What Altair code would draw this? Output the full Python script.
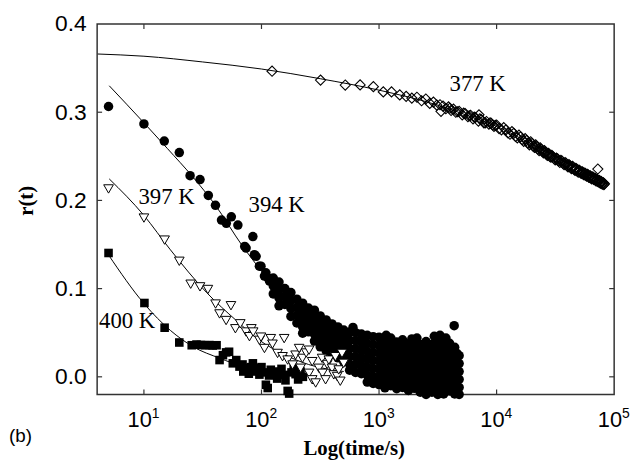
import altair as alt
import pandas as pd

# ---------------- data (time in s, r(t)) ----------------
# 377 K : open diamonds
obs377 = [
    (123, 0.3465), (318, 0.3364), (516, 0.3308), (690, 0.331), (895, 0.329), (1087, 0.323),
    (1277, 0.323), (1500, 0.3196), (1700, 0.318), (1900, 0.316), (2100, 0.317), (2300, 0.313),
    (2500, 0.315), (2700, 0.310), (2900, 0.3115), (3100, 0.308), (3300, 0.3085), (3365, 0.301),
    (3500, 0.307), (3700, 0.304), (3900, 0.306), (4000, 0.3045), (4100, 0.302), (4300, 0.3035),
    (4500, 0.300), (4650, 0.3005), (4800, 0.301), (5100, 0.297), (5250, 0.299), (5400, 0.2985),
    (5700, 0.295), (5850, 0.296), (6000, 0.2965), (6300, 0.2925), (6450, 0.2945), (6600, 0.294),
    (7000, 0.290), (7080, 0.297), (7200, 0.2925), (7400, 0.2915), (7800, 0.288), (8000, 0.288),
    (8200, 0.2895), (8600, 0.2865), (8800, 0.288), (9000, 0.2875), (9250, 0.2855), (9500, 0.284),
    (9750, 0.285), (10000, 0.2855),
    (10500, 0.2815), (11000, 0.280), (11500, 0.2825), (12000, 0.280), (12500, 0.2765), (13000, 0.275),
    (13500, 0.278), (14000, 0.276), (14500, 0.2725), (15000, 0.271), (15500, 0.274), (16000, 0.272),
    (16500, 0.269), (17000, 0.267), (17500, 0.270), (18000, 0.268), (18500, 0.265), (19000, 0.263),
    (19500, 0.2665), (20000, 0.2645), (20500, 0.2615), (21000, 0.260), (21500, 0.263), (22000, 0.261),
    (22500, 0.258), (23000, 0.2565), (23500, 0.2595), (24000, 0.258), (24500, 0.2555), (25000, 0.254),
    (25500, 0.2565), (26000, 0.255), (26500, 0.2525), (27000, 0.251), (27500, 0.2535), (28000, 0.2525),
    (28500, 0.2495), (29000, 0.249), (29500, 0.251), (30000, 0.250), (30750, 0.2475), (31500, 0.246),
    (32250, 0.248), (33000, 0.247), (33750, 0.2445), (34500, 0.243), (35250, 0.2455), (36000, 0.2445),
    (36750, 0.242), (37500, 0.2405), (38250, 0.243), (39000, 0.242), (39750, 0.2395), (40500, 0.238),
    (41250, 0.2405), (42000, 0.2395), (42750, 0.237), (43500, 0.236), (44250, 0.2385), (45000, 0.2375),
    (45750, 0.235), (46500, 0.234), (47250, 0.2365), (48000, 0.2355), (48750, 0.233), (49500, 0.232),
    (50250, 0.2345), (51000, 0.2335), (51750, 0.2315), (52500, 0.2305), (53250, 0.2325), (54000, 0.232),
    (54750, 0.2295), (55500, 0.229), (56250, 0.231), (57000, 0.2305), (57750, 0.228), (58500, 0.2275),
    (59250, 0.2295), (60000, 0.229), (60750, 0.2265), (61500, 0.226), (62250, 0.228), (63000, 0.2275),
    (63750, 0.225), (64500, 0.2245), (65250, 0.2265), (66000, 0.2265), (66750, 0.224), (67500, 0.2235),
    (68250, 0.225), (69000, 0.225), (69750, 0.2225), (70500, 0.222), (71250, 0.224), (72000, 0.2235),
    (72600, 0.2356), (72750, 0.2215), (73500, 0.221), (74250, 0.2225), (75000, 0.2225), (75750, 0.220),
    (76500, 0.2195), (77250, 0.2215), (78000, 0.221), (78750, 0.219), (79500, 0.2185), (80250, 0.220),
    (81000, 0.220), (81800, 0.218), (82600, 0.2188),
]

# 394 K : filled circles
obs394 = [
    (5, 0.3065), (10, 0.2867), (14.9, 0.2673), (20, 0.2542), (24.7, 0.2281), (30, 0.2236),
    (35.3, 0.2057), (40.6, 0.1945), (45.7, 0.1777), (50.2, 0.174), (55.4, 0.1814), (63, 0.172),
    (72, 0.1478), (74, 0.146), (84.5, 0.159), (87, 0.1385), (90, 0.1366), (96, 0.1254), (99, 0.1254),
    (106, 0.1142), (109, 0.118), (113, 0.1124), (117, 0.1086),
    (126, 0.112), (126, 0.103), (126, 0.094),
    (141, 0.1075), (141, 0.0985), (141, 0.0895), (141, 0.0805),
    (158, 0.100), (158, 0.091), (158, 0.082),
    (178, 0.0955), (178, 0.0865), (178, 0.0775), (178, 0.0685),
    (200, 0.088), (200, 0.079), (200, 0.070), (200, 0.061),
    (224, 0.0835), (224, 0.0745), (224, 0.0655), (224, 0.0565), (224, 0.0495),
    (251, 0.078), (251, 0.069), (251, 0.060), (251, 0.051),
    (282, 0.0755), (282, 0.0665), (282, 0.0575), (282, 0.0485), (282, 0.0405),
    (316, 0.069), (316, 0.060), (316, 0.051), (316, 0.042), (316, 0.034),
    (355, 0.0645), (355, 0.0555), (355, 0.0465), (355, 0.0375), (355, 0.0295),
    (398, 0.060), (398, 0.051), (398, 0.042), (398, 0.033), (398, 0.025),
    (447, 0.0565), (447, 0.0475), (447, 0.0385), (447, 0.0295), (447, 0.0215),
    (501, 0.053), (501, 0.044), (501, 0.035), (501, 0.026), (501, 0.017),
    (562, 0.0505), (562, 0.0415), (562, 0.0325), (562, 0.0235), (562, 0.0145), (562, 0.0075),
    (631, 0.050), (631, 0.041), (631, 0.032), (631, 0.023), (631, 0.014), (631, 0.005),
    (708, 0.0485), (708, 0.0395), (708, 0.0305), (708, 0.0215), (708, 0.0125), (708, 0.0035),
    (794, 0.047), (794, 0.038), (794, 0.029), (794, 0.020), (794, 0.011), (794, 0.002), (794, -0.006),
    (891, 0.0455), (891, 0.0365), (891, 0.0275), (891, 0.0185), (891, 0.0095), (891, 0.0005), (891, -0.0075),
    (1000, 0.045), (1000, 0.036), (1000, 0.027), (1000, 0.018), (1000, 0.009), (1000, 0.000), (1000, -0.009),
    (1122, 0.0395), (1122, 0.0305), (1122, 0.0215), (1122, 0.0125), (1122, 0.0035), (1122, -0.0055), (1122, -0.0125),
    (1259, 0.044), (1259, 0.035), (1259, 0.026), (1259, 0.017), (1259, 0.008), (1259, -0.001), (1259, -0.010),
    (1413, 0.0395), (1413, 0.0305), (1413, 0.0215), (1413, 0.0125), (1413, 0.0035), (1413, -0.0055), (1413, -0.0135),
    (1585, 0.042), (1585, 0.033), (1585, 0.024), (1585, 0.015), (1585, 0.006), (1585, -0.003), (1585, -0.012),
    (1778, 0.0375), (1778, 0.0285), (1778, 0.0195), (1778, 0.0105), (1778, 0.0015), (1778, -0.0075), (1778, -0.0155),
    (1995, 0.041), (1995, 0.032), (1995, 0.023), (1995, 0.014), (1995, 0.005), (1995, -0.004), (1995, -0.013),
    (2239, 0.0365), (2239, 0.0275), (2239, 0.0185), (2239, 0.0095), (2239, 0.0005), (2239, -0.0085), (2239, -0.0175),
    (2512, 0.040), (2512, 0.031), (2512, 0.022), (2512, 0.013), (2512, 0.004), (2512, -0.005), (2512, -0.014), (2512, -0.020),
    (2818, 0.0365), (2818, 0.0275), (2818, 0.0185), (2818, 0.0095), (2818, 0.0005), (2818, -0.0085), (2818, -0.0175),
    (3162, 0.040), (3162, 0.031), (3162, 0.022), (3162, 0.013), (3162, 0.004), (3162, -0.005), (3162, -0.014), (3162, -0.020),
    (3548, 0.0425), (3548, 0.0335), (3548, 0.0245), (3548, 0.0155), (3548, 0.0065), (3548, -0.0025), (3548, -0.0115), (3548, -0.0195),
    (3981, 0.038), (3981, 0.029), (3981, 0.020), (3981, 0.011), (3981, 0.002), (3981, -0.007), (3981, -0.016),
    (4400, 0.0335), (4400, 0.0245), (4400, 0.0155), (4400, 0.0065), (4400, -0.0025), (4400, -0.0115), (4400, -0.0195),
    (4800, 0.024), (4800, 0.015), (4800, 0.006), (4800, -0.003), (4800, -0.012), (4800, -0.020),
    (4356, 0.058), (2950, 0.046), (3707, 0.044), (3300, 0.047), (4600, 0.0265), (1900, 0.043),
    (600, 0.056), (1150, 0.047), (2100, 0.044),
]

# 397 K : open down-triangles
obs397 = [
    (5, 0.213), (10, 0.180), (15, 0.155), (20, 0.131), (25, 0.105), (30, 0.102), (35, 0.099),
    (40.7, 0.0825), (44, 0.0713), (50, 0.0638), (55, 0.0806), (60, 0.0545), (66, 0.0601),
    (74, 0.0508), (79, 0.0455), (82, 0.0545), (85, 0.0508), (96, 0.0414), (99, 0.045),
    (106, 0.0321), (120, 0.0433), (124, 0.037), (137, 0.0265), (151, 0.0228), (156, 0.0433),
    (167, 0.019), (184, 0.0134), (195, 0.0246), (209, 0.0321), (215, 0.0097), (223, 0.0209),
    (240, 0.027), (254, 0.0302), (254, 0.004), (270, 0.0172), (270, -0.0034), (289, -0.007),
    (308, 0.0097), (328, 0.0209), (330, 0.004), (351, -0.0034), (362, 0.014), (374, 0.019),
    (398, 0.0097), (412, 0.0022), (425, 0.0228), (440, 0.0004), (454, 0.0078), (468, -0.005),
    (484, 0.0265), (500, 0.0153),
]

# 400 K : filled squares
obs400 = [
    (5, 0.1404), (10.1, 0.0837), (15, 0.0557), (20, 0.0389), (25.5, 0.0358), (28, 0.0366),
    (30.5, 0.0362), (33, 0.0358), (36, 0.0360), (38.5, 0.0355), (41.5, 0.0358), (44, 0.019),
    (47, 0.0245), (50, 0.0277), (53, 0.0284), (57, 0.0153), (61, 0.019), (65, 0.0116),
    (69, 0.0140), (70, 0.0060), (74, 0.0097), (78, 0.0035), (81, 0.0110), (84.5, 0.0153),
    (88, 0.0060), (92, 0.0097), (96, 0.0025), (100, 0.0110), (104, 0.0050), (109, -0.009),
    (113, -0.0127), (116, 0.0015), (120, 0.0080), (125, 0.0030), (130, 0.0060), (136, -0.0020),
    (142, 0.0040), (148, 0.0090), (156, 0.0022), (160, -0.0040), (167, -0.016), (172, -0.019),
    (180, 0.0050), (188, 0.0100), (195, 0.0030), (205, -0.0030), (215, 0.0060), (225, 0.0000),
]

# fitted curves
fit377 = [(4.05, 0.366), (10, 0.3635), (31.6, 0.357), (100, 0.349), (316, 0.338), (1000, 0.325),
          (3162, 0.308), (6300, 0.294), (10000, 0.284), (20000, 0.2636), (31623, 0.250),
          (56000, 0.2315), (82600, 0.219)]
fit394 = [(5.07, 0.330), (10, 0.288), (15.8, 0.259), (26.3, 0.226), (39.8, 0.196), (69.2, 0.148),
          (100, 0.120), (158, 0.090), (251, 0.066), (398, 0.046), (631, 0.031), (1000, 0.020),
          (1995, 0.010), (4800, 0.004)]
fit397 = [(5.07, 0.2244), (10, 0.183), (16.8, 0.144), (34.1, 0.0956), (61.1, 0.0638),
          (96.2, 0.0414), (158, 0.025), (251, 0.014), (501, 0.006)]
fit400 = [(4.98, 0.1385), (10.1, 0.0825), (16.8, 0.0526), (26.3, 0.034), (44.3, 0.021),
          (69.7, 0.0116), (100, 0.007), (200, 0.002)]

# curve labels (time, r)
annotations = [("377 K", 6900, 0.332), ("394 K", 134.6, 0.1945), ("397 K", 15.6, 0.2035), ("400 K", 7.2, 0.0635)]

x_tick_values = [10, 100, 1000, 10000, 100000]
x_tick_exponents = ["1", "2", "3", "4", "5"]
y_tick_values = [0.0, 0.1, 0.2, 0.3, 0.4]

# ---------------- chart ----------------
W, H = 522, 374
FRAME = "#333333"


def frame(pairs, name):
    return pd.DataFrame({"t": [p[0] for p in pairs], "r": [p[1] for p in pairs], "series": name})


xscale = alt.Scale(type="log", domain=[4, 100000], nice=False)
yscale = alt.Scale(domain=[-0.02, 0.4], nice=False, zero=False)

x_axis = alt.Axis(title="Log(time/s)", labels=False, ticks=False, grid=False, domain=False,
                  values=x_tick_values, titleFont="Liberation Serif", titleFontSize=21,
                  titleFontWeight="bold", titleColor="black", titleX=259, titleY=55,
                  titleBaseline="middle", titleAlign="center")
y_axis = alt.Axis(title="r(t)", values=y_tick_values, format=".1f", ticks=False, grid=False,
                  domain=False, labelFont="Liberation Sans", labelFontSize=23, labelColor="black",
                  labelPadding=11, titleFont="Liberation Serif", titleFontSize=21,
                  titleFontWeight="bold", titleColor="black", titleX=-71, titleY=178,
                  titleAngle=270, titleBaseline="middle", titleAlign="center")

fits = pd.concat([frame(fit377, "377 K"), frame(fit394, "394 K"),
                  frame(fit397, "397 K"), frame(fit400, "400 K")])

lines = alt.Chart(fits).mark_line(color="black", strokeWidth=1, interpolate="monotone").encode(
    x=alt.X("t:Q", scale=xscale, axis=x_axis),
    y=alt.Y("r:Q", scale=yscale, axis=y_axis),
    detail="series:N",
)

circles = alt.Chart(frame(obs394, "394 K")).mark_point(
    shape="circle", filled=True, color="black", size=92, opacity=1
).encode(x="t:Q", y="r:Q")

squares = alt.Chart(frame(obs400, "400 K")).mark_point(
    shape="square", filled=True, color="black", size=75, opacity=1
).encode(x="t:Q", y="r:Q")

triangles = alt.Chart(frame(obs397, "397 K")).mark_point(
    shape="triangle-down", filled=True, fill="white", stroke="black", strokeWidth=1,
    size=95, opacity=1, fillOpacity=1
).encode(x="t:Q", y="r:Q")

diamonds = alt.Chart(frame(obs377, "377 K")).mark_point(
    shape="diamond", filled=False, stroke="black", strokeWidth=1.1, size=105, opacity=1
).encode(x="t:Q", y="r:Q")

ann_df = pd.DataFrame({"label": [a[0] for a in annotations],
                       "t": [a[1] for a in annotations],
                       "r": [a[2] for a in annotations]})
ann = alt.Chart(ann_df).mark_text(font="Liberation Serif", fontSize=23, color="black",
                                  align="center", baseline="middle").encode(
    x="t:Q", y="r:Q", text="label:N")

xt_df = pd.DataFrame({"t": x_tick_values, "e": x_tick_exponents})
xlab_base = alt.Chart(xt_df).mark_text(text="10", font="Liberation Sans", fontSize=22,
                                       color="black", align="right", baseline="alphabetic",
                                       dx=8).encode(x="t:Q", y=alt.value(H + 33))
xlab_exp = alt.Chart(xt_df).mark_text(font="Liberation Sans", fontSize=14, color="black",
                                      align="left", baseline="alphabetic", dx=8).encode(
    x="t:Q", y=alt.value(H + 24), text="e:N")

inner_xt = pd.DataFrame({"t": x_tick_values[:-1]})
inner_yt = pd.DataFrame({"r": y_tick_values[:-1]})
tick_bottom = alt.Chart(inner_xt).mark_rule(color=FRAME, strokeWidth=1.2).encode(
    x="t:Q", y=alt.value(H), y2=alt.value(H - 5))
tick_top = alt.Chart(inner_xt).mark_rule(color=FRAME, strokeWidth=1.2).encode(
    x="t:Q", y=alt.value(0), y2=alt.value(5))
tick_left = alt.Chart(inner_yt).mark_rule(color=FRAME, strokeWidth=1.2).encode(
    y="r:Q", x=alt.value(0), x2=alt.value(5))
tick_right = alt.Chart(inner_yt).mark_rule(color=FRAME, strokeWidth=1.2).encode(
    y="r:Q", x=alt.value(W), x2=alt.value(W - 5))

panel = alt.Chart(pd.DataFrame({"s": ["(b)"]})).mark_text(
    font="Liberation Sans", fontSize=19, color="black", align="left", baseline="middle"
).encode(text="s:N", x=alt.value(-89), y=alt.value(416))

chart = alt.layer(
    lines, circles, squares, triangles, diamonds, ann, xlab_base, xlab_exp,
    tick_bottom, tick_top, tick_left, tick_right, panel
).properties(
    width=W, height=H,
    autosize=alt.AutoSizeParams(type="none"),
    padding={"left": 90, "top": 14, "right": 17, "bottom": 64},
).configure_view(stroke=FRAME, strokeWidth=1.5)

chart.save("out.html", embed_options={"renderer": "svg", "actions": False})
